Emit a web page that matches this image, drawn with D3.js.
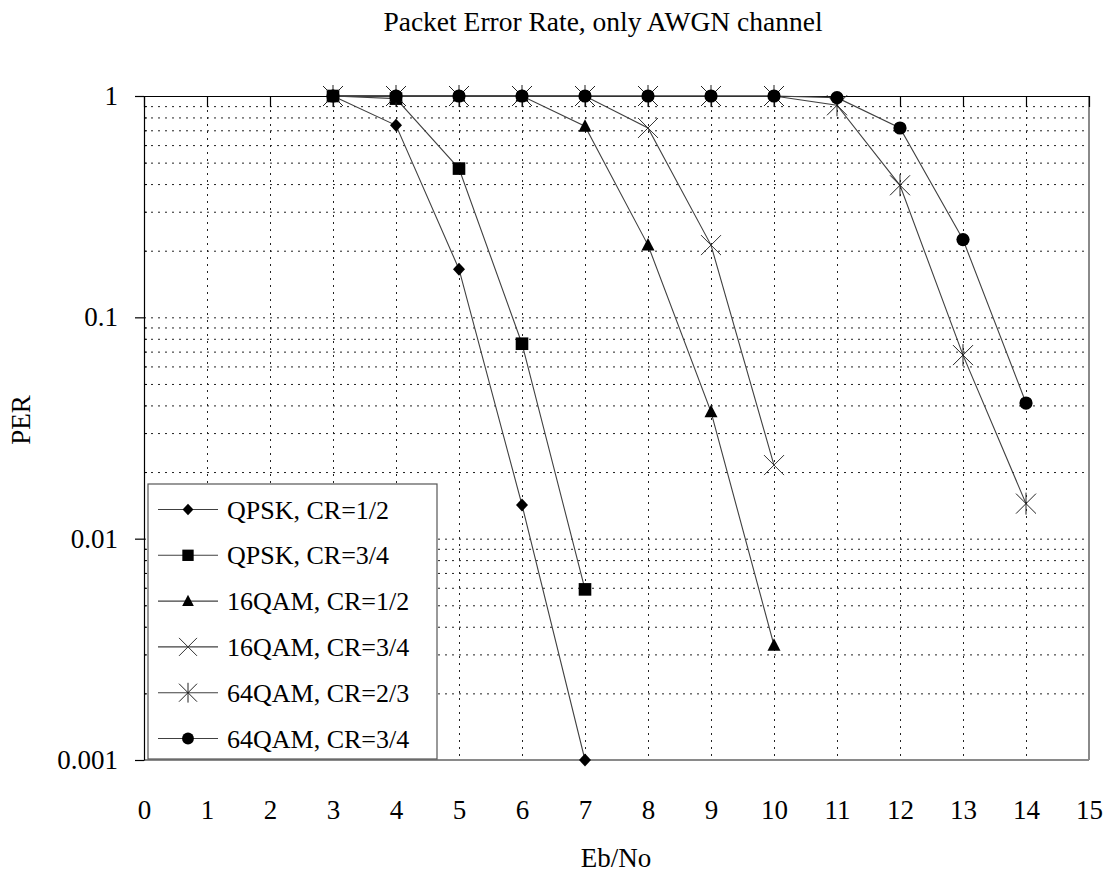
<!DOCTYPE html>
<html>
<head>
<meta charset="utf-8">
<script src="https://cdn.jsdelivr.net/npm/d3@7"></script>
<style>
  html, body { margin: 0; padding: 0; background: #fff; }
  text { font-family: "Liberation Serif", "Times New Roman", serif; fill: #000; }
</style>
</head>
<body>
<script>
// ---------- data ----------
const title = "Packet Error Rate, only AWGN channel";
const xTitle = "Eb/No";
const yTitle = "PER";
const xTickValues = [0,1,2,3,4,5,6,7,8,9,10,11,12,13,14,15];
const yTickValues = [1, 0.1, 0.01, 0.001];
const yTickLabels = ["1", "0.1", "0.01", "0.001"];

const seriesNames = ["QPSK, CR=1/2", "QPSK, CR=3/4", "16QAM, CR=1/2", "16QAM, CR=3/4", "64QAM, CR=2/3", "64QAM, CR=3/4"];
const seriesMarkers = ["diamond", "square", "triangle", "x", "star", "circle"];

const qpsk12_x = [3, 4, 5, 6, 7];
const qpsk12_y = [1, 0.737, 0.165, 0.0142, 0.001];
const qpsk34_x = [3, 4, 5, 6, 7];
const qpsk34_y = [1, 0.973, 0.47, 0.076, 0.0059];
const qam16_12_x = [3, 4, 5, 6, 7, 8, 9, 10];
const qam16_12_y = [1, 1, 1, 1, 0.73, 0.212, 0.0374, 0.0033];
const qam16_34_x = [3, 4, 5, 6, 7, 8, 9, 10];
const qam16_34_y = [1, 1, 1, 1, 1, 0.717, 0.212, 0.0215];
const qam64_23_x = [3, 4, 5, 6, 7, 8, 9, 10, 11, 12, 13, 14];
const qam64_23_y = [1, 1, 1, 1, 1, 1, 1, 1, 0.908, 0.395, 0.0675, 0.0144];
const qam64_34_x = [3, 4, 5, 6, 7, 8, 9, 10, 11, 12, 13, 14];
const qam64_34_y = [1, 1, 1, 1, 1, 1, 1, 1, 0.983, 0.717, 0.2245, 0.041];

const seriesX = [qpsk12_x, qpsk34_x, qam16_12_x, qam16_34_x, qam64_23_x, qam64_34_x];
const seriesY = [qpsk12_y, qpsk34_y, qam16_12_y, qam16_34_y, qam64_23_y, qam64_34_y];

// ---------- layout ----------
const W = 1107, H = 880;
const L = 144, R = 1089, T = 96, B = 760;
const FONT = 27;

const svg = d3.select("body").append("svg").attr("width", W).attr("height", H);

const x = d3.scaleLinear().domain([0, 15]).range([L, R]);
const y = d3.scaleLog().domain([0.001, 1]).range([B, T]);

// gridlines
const allLogTicks = y.ticks();               // 0.001,0.002,...,0.9,1
const hGrid = allLogTicks.filter(v => v > 0.001 * 1.0001 && v < 0.9999);
const vGrid = xTickValues.filter(v => v > 0 && v < 15);

const gridStyle = g => g.selectAll("line")
  .attr("stroke", "#222").attr("stroke-width", 1).attr("stroke-dasharray", "2,5");

svg.append("g").attr("transform", `translate(${L},0)`)
  .call(d3.axisRight(y).tickValues(hGrid).tickSize(R - L).tickFormat(""))
  .call(g => g.select(".domain").remove())
  .call(gridStyle);

svg.append("g").attr("transform", `translate(0,${T})`)
  .call(d3.axisBottom(x).tickValues(vGrid).tickSize(B - T).tickFormat(""))
  .call(g => g.select(".domain").remove())
  .call(gridStyle);

// plot border (right + bottom grey)
svg.append("line").attr("x1", R).attr("x2", R).attr("y1", T).attr("y2", B)
  .attr("stroke", "#8a8a8a").attr("stroke-width", 2);
svg.append("line").attr("x1", L).attr("x2", R).attr("y1", B).attr("y2", B)
  .attr("stroke", "#8a8a8a").attr("stroke-width", 2);

// x axis line at top with ticks pointing down
svg.append("g").attr("transform", `translate(0,${T})`)
  .call(d3.axisBottom(x).tickValues(xTickValues).tickSize(11).tickSizeOuter(0).tickFormat(""))
  .call(g => g.selectAll("line,path").attr("stroke", "#000").attr("stroke-width", 1.2));

// x labels at bottom
svg.append("g").attr("transform", `translate(0,${B})`)
  .call(d3.axisBottom(x).tickValues(xTickValues).tickSize(0).tickPadding(40))
  .call(g => g.select(".domain").remove())
  .call(g => g.selectAll("text").attr("font-size", FONT).attr("fill", "#000")
    .attr("font-family", "Liberation Serif, Times New Roman, serif"));

// y axis
svg.append("g").attr("transform", `translate(${L},0)`)
  .call(d3.axisLeft(y).tickValues(yTickValues).tickSize(9).tickSizeOuter(0).tickPadding(17)
    .tickFormat((d, i) => yTickLabels[i]))
  .call(g => g.selectAll("line,path").attr("stroke", "#000").attr("stroke-width", 1.2))
  .call(g => g.selectAll("text").attr("font-size", FONT).attr("fill", "#000")
    .attr("font-family", "Liberation Serif, Times New Roman, serif"));

// minor ticks
svg.append("g").attr("transform", `translate(${L},0)`)
  .call(d3.axisRight(y).tickValues(hGrid.filter(v => !yTickValues.includes(v))).tickSize(3).tickFormat(""))
  .call(g => g.select(".domain").remove())
  .call(g => g.selectAll("line").attr("stroke", "#000"));

// ---------- markers ----------
function drawMarker(g, type, s) {
  const k = s || 1;
  if (type === "diamond") {
    g.append("path").attr("d", `M0,${-6.5*k}L${6*k},0L0,${6.5*k}L${-6*k},0Z`).attr("fill", "#000");
  } else if (type === "square") {
    g.append("rect").attr("x", -6.3*k).attr("y", -6.3*k).attr("width", 12.6*k).attr("height", 12.6*k).attr("fill", "#000");
  } else if (type === "triangle") {
    g.append("path").attr("d", `M0,${-7*k}L${6.5*k},${5.5*k}L${-6.5*k},${5.5*k}Z`).attr("fill", "#000");
  } else if (type === "x") {
    const r = 10 * k;
    g.append("path").attr("d", `M${-r},${-r}L${r},${r}M${-r},${r}L${r},${-r}`)
      .attr("stroke", "#333").attr("stroke-width", 1).attr("fill", "none");
  } else if (type === "star") {
    const r = 10 * k;
    g.append("path").attr("d", `M${-r},${-r}L${r},${r}M${-r},${r}L${r},${-r}M0,${-r*1.1}L0,${r*1.1}`)
      .attr("stroke", "#222").attr("stroke-width", 1).attr("fill", "none");
  } else if (type === "circle") {
    g.append("circle").attr("r", 6.6*k).attr("fill", "#000");
  }
}

const line = d3.line().x(d => x(d[0])).y(d => y(d[1]));

seriesNames.forEach((name, si) => {
  const pts = seriesX[si].map((xv, i) => [xv, seriesY[si][i]]);
  const g = svg.append("g");
  g.append("path").datum(pts).attr("d", line)
    .attr("fill", "none").attr("stroke", "#404040").attr("stroke-width", 1.1);
  pts.forEach(p => {
    const mg = g.append("g").attr("transform", `translate(${x(p[0])},${y(p[1])})`);
    drawMarker(mg, seriesMarkers[si], 1);
  });
});

// ---------- legend ----------
const lg = svg.append("g");
lg.append("rect").attr("x", 148).attr("y", 484).attr("width", 289).attr("height", 275)
  .attr("fill", "#fff").attr("stroke", "#555").attr("stroke-width", 1.2);
seriesNames.forEach((name, i) => {
  const cy = 509.5 + i * 45.8;
  lg.append("line").attr("x1", 158).attr("x2", 218).attr("y1", cy).attr("y2", cy)
    .attr("stroke", "#404040").attr("stroke-width", 1.1);
  const mg = lg.append("g").attr("transform", `translate(188,${cy})`);
  drawMarker(mg, seriesMarkers[i], 0.9);
  lg.append("text").attr("x", 227).attr("y", cy).attr("dy", "0.35em")
    .attr("font-size", 26).text(name);
});

// ---------- titles ----------
svg.append("text").attr("x", 603).attr("y", 31).attr("text-anchor", "middle")
  .attr("font-size", 27.5).text(title);
svg.append("text").attr("x", 616).attr("y", 867).attr("text-anchor", "middle")
  .attr("font-size", FONT).text(xTitle);
svg.append("text").attr("transform", "translate(30,420) rotate(-90)").attr("text-anchor", "middle")
  .attr("font-size", FONT).text(yTitle);
</script>
</body>
</html>
